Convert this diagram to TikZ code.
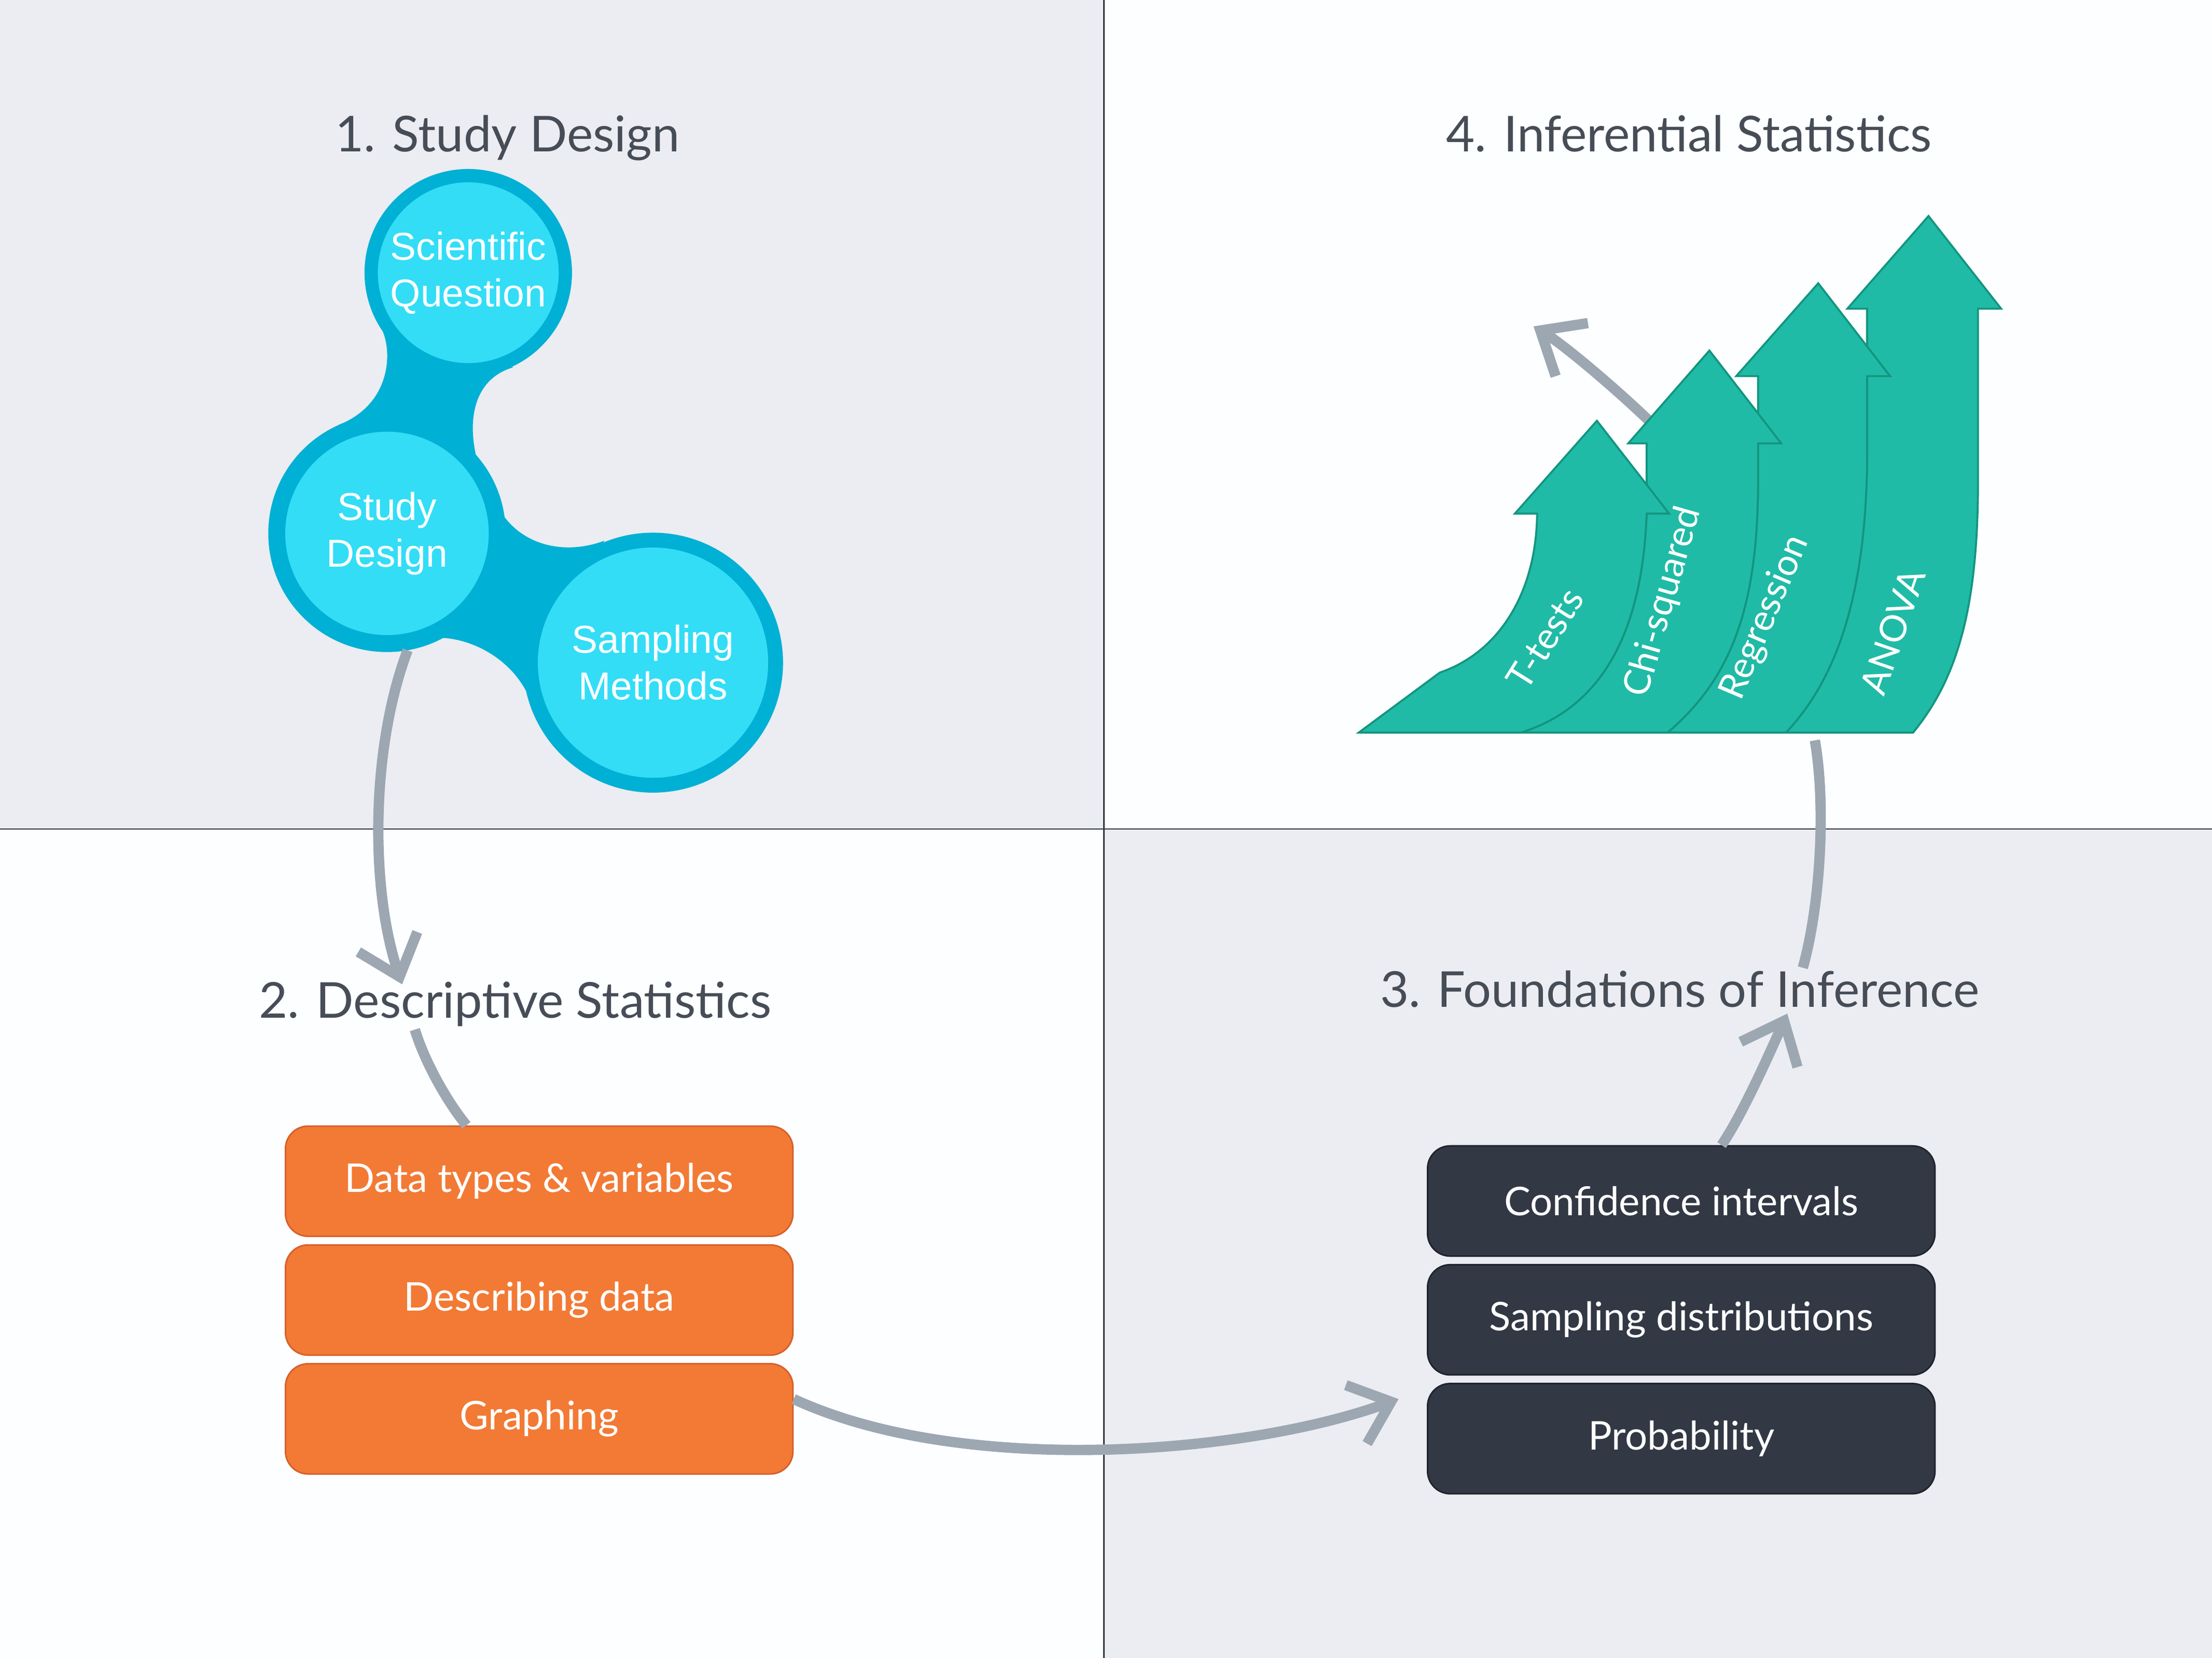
\documentclass[tikz,border=0pt]{standalone}
\usepackage{fontspec}
\setmainfont{Lato}
\newfontfamily\bubblefont{Liberation Sans}
\usetikzlibrary{positioning,arrows.meta}
\definecolor{PanelGray}{RGB}{235,237,242}
\definecolor{PanelWhite}{RGB}{252,254,255}
\definecolor{RuleDark}{RGB}{47,53,64}
\definecolor{TitleGray}{RGB}{70,77,87}
\definecolor{BubbleLight}{RGB}{51,221,246}
\definecolor{BubbleDark}{RGB}{0,176,213}
\definecolor{BoxOrange}{RGB}{242,122,53}
\definecolor{BoxDOrange}{RGB}{214,96,42}
\definecolor{BoxSlate}{RGB}{50,56,68}
\definecolor{BoxDSlate}{RGB}{31,36,44}
\definecolor{FanTeal}{RGB}{32,187,166}
\definecolor{FanDTeal}{RGB}{19,149,128}
\definecolor{FlowGray}{RGB}{156,167,178}

\tikzset{
  quadtitle/.style={font=\fontsize{35}{42}\selectfont, text=TitleGray, inner sep=2pt, anchor=base},
  bubble/.style={circle, fill=BubbleLight, draw=BubbleDark, text=white, align=center,
    font=\bubblefont\fontsize{27.5}{33}\selectfont, inner sep=0pt},
  topicbox/.style={rectangle, rounded corners=16pt, minimum width=359pt, minimum height=78pt,
    line width=1.1pt, text=white, font=\fontsize{28}{34}\selectfont},
  descbox/.style={topicbox, fill=BoxOrange, draw=BoxDOrange},
  inferbox/.style={topicbox, fill=BoxSlate, draw=BoxDSlate},
  fan/.style={fill=FanTeal, draw=FanDTeal, line width=1.4pt, line join=miter},
  fanlabel/.style={text=white, font=\fontsize{26}{31}\selectfont, inner sep=0pt},
  flowline/.style={draw=FlowGray, line width=7.3pt},
  flow/.style={flowline, -{Straight Barb[length=26pt, width=44pt, sharp]}},
}

\begin{document}
\begin{tikzpicture}[x=1pt, y=-1pt, node distance=5pt]
\pgfmathsetmacro{\xm}{781} % vertical split
\pgfmathsetmacro{\ym}{586.7} % horizontal split
\pgfmathsetmacro{\yb}{518.5} % base line of the fan

\useasboundingbox (0,0) rectangle (1565,1173.4);
\fill[PanelGray] (0,0) rectangle (\xm,\ym); %study design panel
\fill[PanelWhite] (\xm,0) rectangle (1565,\ym); %inferential panel
\fill[PanelWhite] (0,\ym) rectangle (\xm,1173.4); %descriptive panel
\fill[PanelGray] (\xm,\ym) rectangle (1565,1173.4); %foundations panel
\draw[RuleDark, line width=0.8pt] (\xm,0) -- (\xm,1173.4);
\draw[RuleDark, line width=0.8pt] (0,\ym) -- (1565,\ym);

% web between the three bubbles
\fill[BubbleDark] (267.5,228.7) .. controls (278,242) and (280,285) .. (239.4,300.8)
  -- (298.3,453) .. controls (322,446) and (365,462) .. (377,500.6)
  -- (427.5,382.7) .. controls (400,393) and (372,386) .. (357,366)
  .. controls (330,330) and (322,272) .. (363,260) -- cycle;

\node[bubble, minimum size=137.4pt, line width=9.4pt] (question) at (331.3,193) {Scientific\\Question};
\node[bubble, minimum size=156pt, line width=12pt] (design) at (273.8,377.5) {Study\\Design};
\node[bubble, minimum size=173.5pt, line width=10.5pt] (methods) at (462,469) {Sampling\\Methods};

\node[quadtitle] (plan) at (359,107.5) {1. Study Design};
\node[quadtitle] (desc) at (364.5,720.5) {2. Descriptive Statistics};
\node[quadtitle] (found) at (1188.5,712.9) {3. Foundations of Inference};
\node[quadtitle] (infer) at (1195,107.5) {4. Inferential Statistics};

\node[descbox] (types) at (381.5,836) {Data types \& variables};
\node[descbox, below=of types] (describe) {Describing data};
\node[descbox, below=of describe] (graph) {Graphing};

\node[inferbox] (conf) at (1189.5,850) {Confidence intervals};
\node[inferbox, below=of conf] (sampling) {Sampling distributions};
\node[inferbox, below=of sampling] (prob) {Probability};

\draw[flow] (design.-80) .. controls (262,530) and (262,630) .. ([xshift=-80pt,yshift=-4pt]desc.north);
\draw[flowline] ([xshift=-71pt]desc.south) .. controls (300,750) and (315,778) .. ([xshift=-51.5pt]types.north);
\draw[flow] ([yshift=14pt]graph.east) .. controls (680,1045) and (880,1030) .. ([xshift=-20pt,yshift=28pt]prob.west);
\draw[flow] ([xshift=28.5pt]conf.north) .. controls (1232,790) and (1250,750) .. ([xshift=76pt,yshift=-2pt]found.south);

\coordinate (fanfoot) at (1284,524);
\coordinate (chiside) at (1172,303);
\coordinate (escape) at (1085,231);
\draw[flowline] ([xshift=87pt]found.north) .. controls (1288,640) and (1292,570) .. (fanfoot);
\draw[flow] (chiside) .. controls (1150,281) and (1108,245) .. (escape);

% fan of arrows, back to front
\filldraw[fan] (1263.5,\yb) .. controls (1300,480) and (1320,420) .. (1321,325) -- (1321,218.5)
  -- (1307,218.5) -- (1364.4,152.9) -- (1415.8,218.5) -- (1399.4,218.5) -- (1399.4,344.7)
  .. controls (1399,430) and (1385,480) .. (1353.5,\yb) -- cycle; %anova
\filldraw[fan] (1179.8,\yb) .. controls (1225,480) and (1243,430) .. (1243.8,345) -- (1243.8,266.2)
  -- (1228.4,266.2) -- (1286.4,200.5) -- (1337.2,266.2) -- (1321,266.2) -- (1321,325)
  .. controls (1320,420) and (1300,480) .. (1263.5,\yb) -- cycle; %regression
\filldraw[fan] (1076,\yb) .. controls (1135,500) and (1162,445) .. (1165,363.5) -- (1165,313.8)
  -- (1152,313.8) -- (1209.4,248.1) -- (1260.2,313.8) -- (1243.8,313.8) -- (1243.8,345)
  .. controls (1243,430) and (1225,480) .. (1179.8,\yb) -- cycle; %chi-squared
\filldraw[fan] (961.3,\yb) -- (1018.7,476) .. controls (1060,462) and (1087,420) .. (1087.5,363.5)
  -- (1071.8,363.5) -- (1129.8,297.8) -- (1180.9,363.5) -- (1165,363.5)
  .. controls (1162,445) and (1135,500) .. (1076,\yb) -- cycle; %t-tests

\node[fanlabel, rotate=58] (ttests) at (1093,452) {T-tests};
\node[fanlabel, rotate=74] (chisq) at (1177,426) {Chi-squared};
\node[fanlabel, rotate=67] (regr) at (1249,437) {Regression};
\node[fanlabel, rotate=71] (anova) at (1339,447) {ANOVA};

\end{tikzpicture}
\end{document}
